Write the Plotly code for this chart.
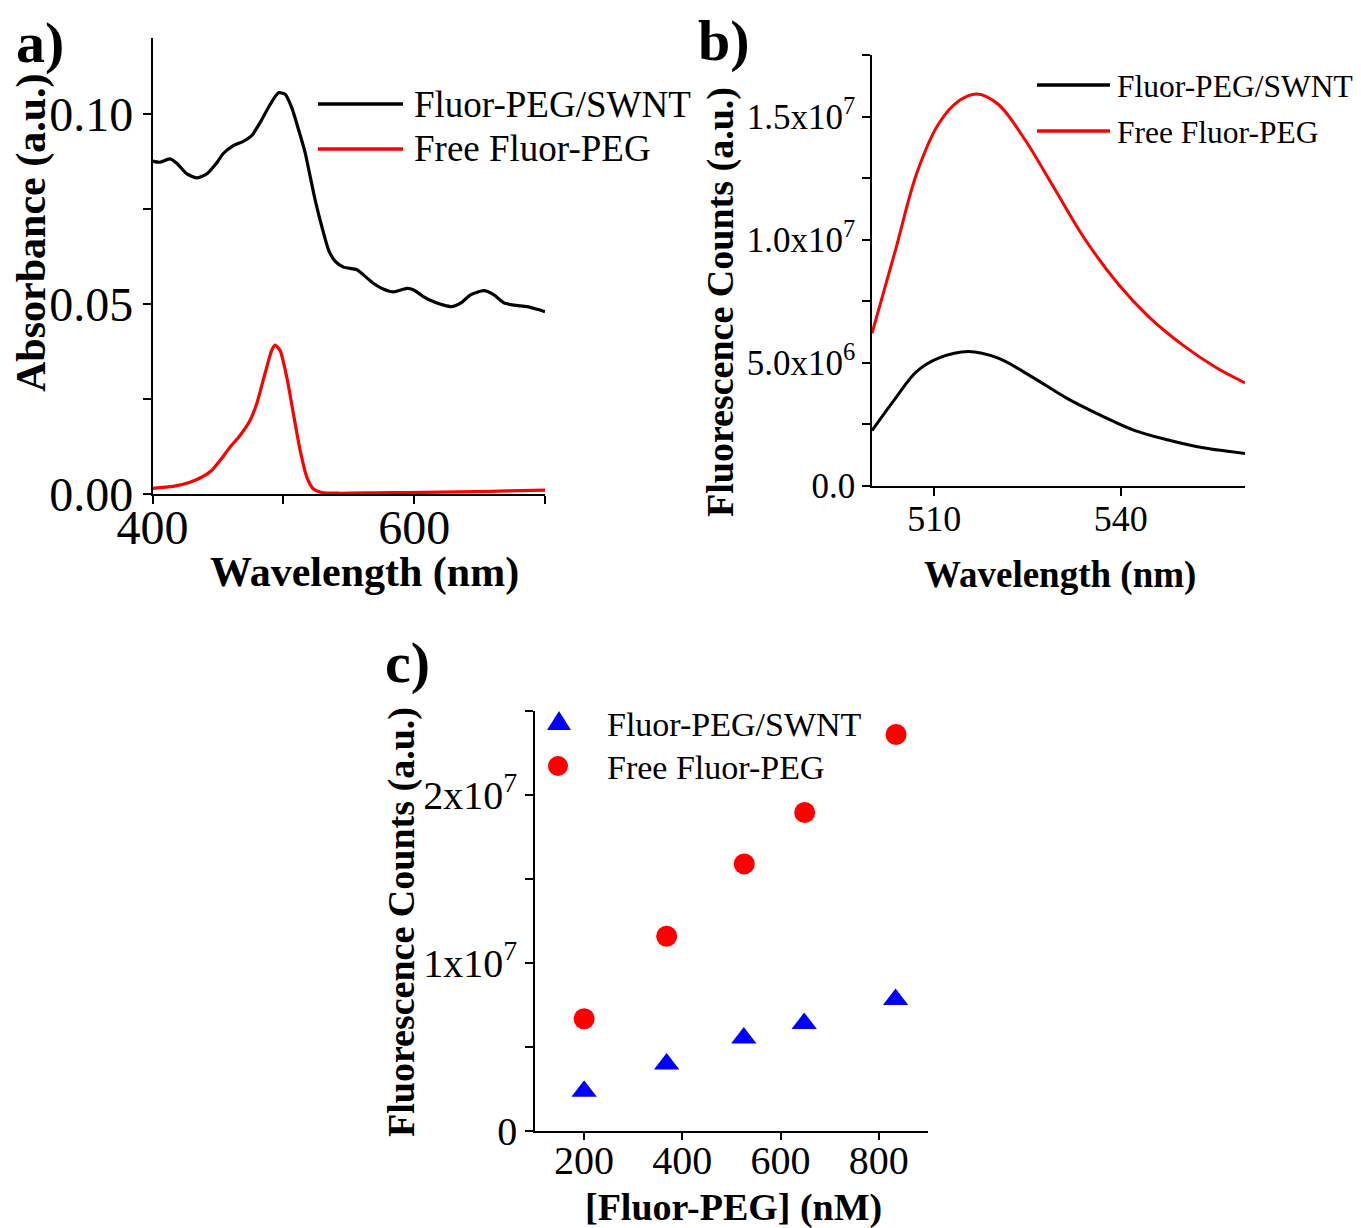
import plotly.graph_objects as go

W, H = 1361, 1228
OFF = 8  # page body margin in the browser
FONT = "Liberation Serif, Times New Roman, serif"

# ---------------- Panel a: absorbance ----------------
a_swnt_wl = [400.0, 405.6, 413.3, 418.4, 426.0, 433.7, 441.4, 449.0, 454.1, 461.8, 469.4, 475.8,
             482.2, 489.9, 496.3, 501.4, 506.5, 511.6, 516.7, 520.5, 524.3, 529.4, 534.6, 539.7,
             546.0, 556.3, 561.4, 569.0, 576.7, 584.3, 594.6, 599.7, 607.3, 615.0, 622.6, 629.0,
             635.4, 643.1, 653.3, 661.0, 668.6, 676.3, 686.5, 694.1, 700.0]
a_swnt_abs = [0.0876, 0.0873, 0.0882, 0.0871, 0.0843, 0.0832, 0.0842, 0.0871, 0.0896, 0.0917, 0.0928, 0.0943,
              0.0977, 0.1025, 0.1056, 0.1052, 0.1016, 0.0959, 0.0898, 0.0836, 0.0774, 0.0704, 0.0642, 0.0612,
              0.0597, 0.0590, 0.0576, 0.0554, 0.0539, 0.0532, 0.0541, 0.0537, 0.0519, 0.0506, 0.0497, 0.0493,
              0.0502, 0.0524, 0.0535, 0.0524, 0.0503, 0.0497, 0.0493, 0.0486, 0.0480]
a_free_wl = [400.0, 415.8, 428.6, 437.5, 445.2, 451.6, 459.2, 466.9, 474.6, 479.7, 486.0, 491.1, 493.7,
             497.5, 502.6, 507.7, 512.9, 518.0, 523.1, 529.4, 543.5, 569.0, 594.6, 620.1, 645.6, 671.2, 700.0]
a_free_abs = [0.0015, 0.0020, 0.0031, 0.0044, 0.0062, 0.0088, 0.0123, 0.0154, 0.0194, 0.0238, 0.0317, 0.0378, 0.0392,
              0.0378, 0.0308, 0.0211, 0.0114, 0.0044, 0.0013, 0.0004, 0.0002, 0.0003, 0.0004, 0.0005, 0.0006, 0.0008, 0.0010]

# ---------------- Panel b: fluorescence spectra ----------------
b_wl_red = [500.0, 503.8, 507.2, 510.7, 514.1, 516.9, 520.3, 524.5, 529.3, 534.1, 539.6, 544.4, 549.9, 555.4, 560.0]
b_free = [6.2e6, 9.6e6, 12.7e6, 14.7e6, 15.66e6, 15.92e6, 15.5e6, 14.1e6, 12.1e6, 10.08e6, 8.2e6, 6.9e6, 5.74e6, 4.8e6, 4.19e6]
b_wl_blk = [500.0, 503.8, 507.2, 510.7, 515.5, 520.3, 525.8, 531.3, 536.8, 542.3, 547.8, 553.3, 560.0]
b_swnt = [2.25e6, 3.57e6, 4.65e6, 5.19e6, 5.46e6, 5.19e6, 4.42e6, 3.57e6, 2.87e6, 2.25e6, 1.86e6, 1.55e6, 1.32e6]

# ---------------- Panel c: concentration series ----------------
c_conc_swnt = [200, 368, 525, 648, 834]
c_swnt = [2.37e6, 3.99e6, 5.53e6, 6.40e6, 7.83e6]
c_conc_free = [200, 368, 526, 649, 835]
c_free = [6.68e6, 11.59e6, 15.9e6, 18.96e6, 23.6e6]

names = ["Fluor-PEG/SWNT", "Free Fluor-PEG"]

b_ytickvals = [0, 5e6, 1e7, 1.5e7]
b_yticktext = ["0.0", "5.0x10<sup>6</sup>", "1.0x10<sup>7</sup>", "1.5x10<sup>7</sup>"]
c_ytickvals = [0, 1e7, 2e7]
c_yticktext = ["0", "1x10<sup>7</sup>", "2x10<sup>7</sup>"]


def px(x):
    return (x - OFF) / W


def py(y):
    return 1 - (y - OFF) / H


fig = go.Figure()
fig.add_trace(go.Scatter(x=a_swnt_wl, y=a_swnt_abs, mode="lines", name=names[0],
                         line=dict(color="black", width=3.2, shape="spline", smoothing=0.6),
                         xaxis="x", yaxis="y", showlegend=False))
fig.add_trace(go.Scatter(x=a_free_wl, y=a_free_abs, mode="lines", name=names[1],
                         line=dict(color="#ff0000", width=3.2, shape="spline", smoothing=0.6),
                         xaxis="x", yaxis="y", showlegend=False))
fig.add_trace(go.Scatter(x=b_wl_blk, y=b_swnt, mode="lines", name=names[0],
                         line=dict(color="black", width=3, shape="spline", smoothing=1.0),
                         xaxis="x2", yaxis="y2", showlegend=False))
fig.add_trace(go.Scatter(x=b_wl_red, y=b_free, mode="lines", name=names[1],
                         line=dict(color="#ff0000", width=3, shape="spline", smoothing=1.0),
                         xaxis="x2", yaxis="y2", showlegend=False))
fig.add_trace(go.Scatter(x=c_conc_swnt, y=c_swnt, mode="markers", name=names[0],
                         marker=dict(symbol="triangle-up", size=22, color="#0000ff"),
                         xaxis="x3", yaxis="y3", showlegend=False))
fig.add_trace(go.Scatter(x=c_conc_free, y=c_free, mode="markers", name=names[1],
                         marker=dict(symbol="circle", size=21, color="#ff0000"),
                         xaxis="x3", yaxis="y3", showlegend=False))

axis_common = dict(showline=True, linecolor="black", linewidth=1.5, ticks="outside",
                   tickcolor="black", tickwidth=1.5, showgrid=False, zeroline=False,
                   color="black", automargin=False)

fig.update_layout(
    width=W, height=H,
    margin=dict(l=0, r=0, t=0, b=0, pad=0, autoexpand=False),
    paper_bgcolor="white", plot_bgcolor="white",
    font=dict(family=FONT, color="black"),
    showlegend=False,
    xaxis=dict(axis_common, domain=[px(152.5), px(545)], range=[400, 700], anchor="y",
               tick0=400, dtick=200, ticklen=8, tickfont=dict(size=48, family=FONT),
               ticklabelstandoff=-17,
               minor=dict(dtick=100, tick0=400, ticks="outside", ticklen=8, tickcolor="black", tickwidth=1.5)),
    yaxis=dict(axis_common, domain=[py(494), py(38)], range=[0, 0.12], anchor="x",
               tick0=0, dtick=0.05, tickformat=".2f", ticklen=8, tickfont=dict(size=48, family=FONT),
               minor=dict(dtick=0.025, tick0=0, ticks="outside", ticklen=8, tickcolor="black", tickwidth=1.5)),
    xaxis2=dict(axis_common, domain=[px(872), px(1245)], range=[500, 560], anchor="y2",
                tickvals=[510, 540], ticktext=["510", "540"], ticklen=8,
                ticklabelstandoff=-8,
                tickfont=dict(size=36, family=FONT)),
    yaxis2=dict(axis_common, domain=[py(486), py(55)], range=[0, 1.75e7], anchor="x2",
                tickvals=b_ytickvals, ticktext=b_yticktext, ticklen=8,
                tickfont=dict(size=35, family=FONT),
                minor=dict(tickvals=[2.5e6, 7.5e6, 1.25e7, 1.75e7], ticks="outside", ticklen=8,
                           tickcolor="black", tickwidth=1.5)),
    xaxis3=dict(axis_common, domain=[px(535), px(928)], range=[100, 900], anchor="y3",
                tickvals=[200, 400, 600, 800], ticklen=7, tickfont=dict(size=40, family=FONT),
                ticklabelstandoff=-14),
    yaxis3=dict(axis_common, domain=[py(1131), py(711)], range=[0, 2.5e7], anchor="x3",
                tickvals=c_ytickvals, ticktext=c_yticktext, ticklen=8,
                tickfont=dict(size=40, family=FONT),
                minor=dict(tickvals=[5e6, 1.5e7, 2.5e7], ticks="outside", ticklen=8,
                           tickcolor="black", tickwidth=1.5)),
)

ann = []


def add_text(text, x, y, size, bold=False, angle=0, xanchor="center"):
    ann.append(dict(text=text, x=px(x), y=py(y), xref="paper", yref="paper",
                    showarrow=False, textangle=angle, xanchor=xanchor, yanchor="middle",
                    font=dict(family=FONT, size=size, color="black",
                              weight="bold" if bold else "normal")))


# panel labels
add_text("a)", 14, 42, 58, bold=True, xanchor="left")
add_text("b)", 696, 40, 58, bold=True, xanchor="left")
add_text("c)", 383, 662, 58, bold=True, xanchor="left")

# axis titles
add_text("Wavelength (nm)", 364, 572, 42, bold=True)
add_text("Absorbance (a.u.)", 32, 233, 42, bold=True, angle=-90)
add_text("Wavelength (nm)", 1060, 575, 37, bold=True)
add_text("Fluorescence Counts (a.u.)", 720, 302, 38, bold=True, angle=-90)
add_text("[Fluor-PEG] (nM)", 733, 1207, 38, bold=True)
add_text("Fluorescence Counts (a.u.)", 401, 922, 38, bold=True, angle=-90)

# legends (text)
add_text(names[0], 412, 104, 37, xanchor="left")
add_text(names[1], 412, 149, 37, xanchor="left")
add_text(names[0], 1115, 86, 31.5, xanchor="left")
add_text(names[1], 1115, 132, 31.5, xanchor="left")
add_text(names[0], 605, 724, 34, xanchor="left")
add_text(names[1], 605, 767, 34, xanchor="left")

shapes = []


def legend_line(x0, x1, y, color):
    shapes.append(dict(type="line", xref="paper", yref="paper", x0=px(x0), x1=px(x1),
                       y0=py(y), y1=py(y), line=dict(color=color, width=3.5)))


legend_line(318, 403, 104, "black")
legend_line(318, 403, 149, "#ff0000")
legend_line(1037, 1110, 85, "black")
legend_line(1037, 1110, 131, "#ff0000")

# panel c legend symbols
cx, cy, r = 559, 722, 12
shapes.append(dict(type="path", xref="paper", yref="paper",
                   path=f"M {px(cx - r)} {py(cy + 8)} L {px(cx + r)} {py(cy + 8)} L {px(cx)} {py(cy - 11)} Z",
                   fillcolor="#0000ff", line=dict(color="#0000ff", width=0)))
cx, cy, r = 558, 766, 10
shapes.append(dict(type="circle", xref="paper", yref="paper",
                   x0=px(cx - r), x1=px(cx + r), y0=py(cy + r), y1=py(cy - r),
                   fillcolor="#ff0000", line=dict(color="#ff0000", width=0)))

fig.update_layout(annotations=ann, shapes=shapes)

fig.write_html("out.html")
